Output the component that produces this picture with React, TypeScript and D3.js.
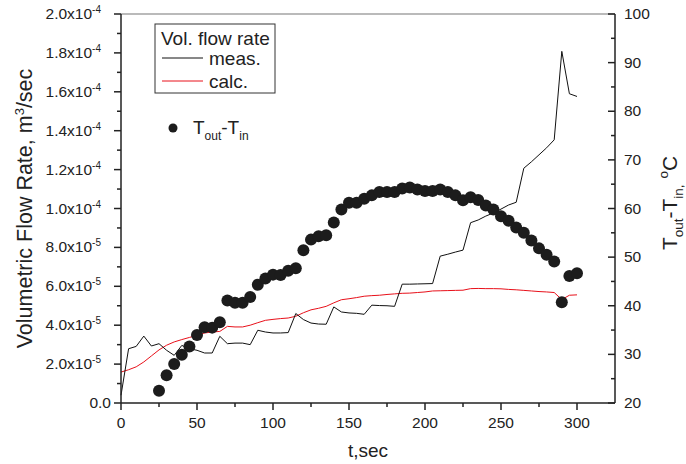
import React from "react";
import * as d3 from "d3";

// ---- Data ----
const measTime = [0,5,10,15,20,25,30,35,40,45,50,55,60,65,70,75,80,85,90,95,100,105,110,115,120,125,130,135,140,145,150,155,160,165,170,175,180,185,190,195,200,205,210,215,220,225,230,235,240,245,250,255,260,265,270,275,280,285,290,295,300];
const measFlow = [0.4e-5,2.79e-5,2.91e-5,3.44e-5,2.93e-5,3.05e-5,2.71e-5,2.45e-5,2.96e-5,2.79e-5,2.71e-5,2.57e-5,2.57e-5,3.43e-5,3.05e-5,3.08e-5,3.08e-5,3.0e-5,3.74e-5,3.65e-5,3.6e-5,3.6e-5,3.62e-5,4.6e-5,4.29e-5,4.11e-5,4.06e-5,4.05e-5,4.94e-5,4.68e-5,4.63e-5,4.61e-5,4.56e-5,5.03e-5,5.01e-5,5.0e-5,4.97e-5,6.11e-5,6.11e-5,6.12e-5,6.13e-5,6.14e-5,7.55e-5,7.65e-5,7.76e-5,7.86e-5,9.27e-5,9.41e-5,9.61e-5,9.77e-5,9.97e-5,10.18e-5,10.32e-5,12.07e-5,12.4e-5,12.76e-5,13.12e-5,13.53e-5,18.08e-5,15.9e-5,15.76e-5];

const calcTime = measTime;
const calcFlow = [1.59e-5,1.71e-5,1.86e-5,2.11e-5,2.42e-5,2.73e-5,2.97e-5,3.14e-5,3.26e-5,3.37e-5,3.48e-5,3.6e-5,3.65e-5,3.68e-5,3.94e-5,3.91e-5,3.91e-5,4.0e-5,4.13e-5,4.25e-5,4.3e-5,4.34e-5,4.37e-5,4.46e-5,4.64e-5,4.79e-5,4.87e-5,4.97e-5,5.15e-5,5.31e-5,5.36e-5,5.42e-5,5.49e-5,5.52e-5,5.54e-5,5.58e-5,5.61e-5,5.64e-5,5.65e-5,5.68e-5,5.71e-5,5.76e-5,5.77e-5,5.78e-5,5.79e-5,5.8e-5,5.88e-5,5.89e-5,5.88e-5,5.88e-5,5.87e-5,5.84e-5,5.82e-5,5.79e-5,5.76e-5,5.73e-5,5.71e-5,5.68e-5,5.32e-5,5.54e-5,5.56e-5];

const tempTime = [25,30,35,40,45,50,55,60,65,70,75,80,85,90,95,100,105,110,115,120,125,130,135,140,145,150,155,160,165,170,175,180,185,190,195,200,205,210,215,220,225,230,235,240,245,250,255,260,265,270,275,280,285,290,295,300];
const tempDiff = [22.5,25.7,28.0,29.9,31.6,34.0,35.6,35.5,36.6,41.1,40.6,40.6,41.8,44.3,45.6,46.4,46.3,47.2,47.7,51.4,53.6,54.3,54.5,57.1,59.8,61.2,61.2,62.0,62.7,63.4,63.4,63.4,64.1,64.3,63.9,63.6,63.6,63.9,63.4,62.7,61.7,62.3,61.75,60.6,59.8,58.4,57.5,56.1,55.0,53.4,51.8,50.5,49.1,40.7,46.1,46.7];

const xTicks = [0,50,100,150,200,250,300];
const xMinor = [25,75,125,175,225,275];
const leftTicks = [0,2e-5,4e-5,6e-5,8e-5,1e-4,1.2e-4,1.4e-4,1.6e-4,1.8e-4,2e-4];
const leftMinor = [1e-5,3e-5,5e-5,7e-5,9e-5,1.1e-4,1.3e-4,1.5e-4,1.7e-4,1.9e-4];
const rightTicks = [20,30,40,50,60,70,80,90,100];
const rightMinor = [25,35,45,55,65,75,85,95];

const W = 686, H = 464;
const L = 121, R = 615, T = 14, B = 403;
const FONT = "'Liberation Sans', Arial, Helvetica, sans-serif";

function leftLabel(v: number) {
  if (v === 0) return <tspan>0.0</tspan>;
  const exp = Math.floor(Math.log10(v) + 1e-9);
  const mant = v / Math.pow(10, exp);
  return (
    <>
      <tspan>{mant.toFixed(1)}x10</tspan>
      <tspan dy={-6} fontSize={10}>{exp}</tspan>
    </>
  );
}

export default function App() {
  const x = d3.scaleLinear().domain([0, 325]).range([L, R]);
  const yL = d3.scaleLinear().domain([0, 2e-4]).range([B, T]);
  const yR = d3.scaleLinear().domain([20, 100]).range([B, T]);

  const measLine = d3.line<number>().x((_, i) => x(measTime[i])).y((d) => yL(d))(measFlow) || "";
  const calcLine = d3.line<number>().x((_, i) => x(calcTime[i])).y((d) => yL(d))(calcFlow) || "";

  const axisColor = "#222";
  const textColor = "#222";

  return (
    <svg width={W} height={H} style={{ position: "absolute", left: 0, top: 0, background: "#fff" }} fontFamily={FONT}>
      <rect x={0} y={0} width={W} height={H} fill="#fff" />
      {/* data lines */}
      <path d={calcLine} fill="none" stroke="#e8101a" strokeWidth={1} />
      <path d={measLine} fill="none" stroke="#111" strokeWidth={1} />
      {/* dots */}
      {tempDiff.map((d, i) => (
        <circle key={i} cx={x(tempTime[i])} cy={yR(d)} r={6} fill="#1c1c1c" />
      ))}

      {/* frame */}
      <line x1={L} x2={R} y1={T} y2={T} stroke="#777" strokeWidth={1.2} />
      <line x1={L} x2={L} y1={T} y2={B} stroke={axisColor} strokeWidth={1.5} />
      <line x1={R} x2={R} y1={T} y2={B} stroke={axisColor} strokeWidth={1.5} />
      <line x1={L} x2={R} y1={B} y2={B} stroke={axisColor} strokeWidth={1.5} />

      {/* bottom axis */}
      {xTicks.map((t) => (
        <g key={"xt" + t}>
          <line x1={x(t)} x2={x(t)} y1={B} y2={B + 7} stroke={axisColor} strokeWidth={1.5} />
          <text x={x(t)} y={B + 25} textAnchor="middle" fontSize={15.5} fill={textColor}>{t}</text>
        </g>
      ))}
      {xMinor.map((t) => (
        <line key={"xm" + t} x1={x(t)} x2={x(t)} y1={B} y2={B + 4} stroke={axisColor} strokeWidth={1.5} />
      ))}
      <text x={368} y={457} textAnchor="middle" fontSize={19} fill={textColor}>t,sec</text>

      {/* left axis */}
      {leftTicks.map((v) => (
        <g key={"lt" + v}>
          <line x1={L - 7} x2={L} y1={yL(v)} y2={yL(v)} stroke={axisColor} strokeWidth={1.5} />
          <text x={v === 0 ? L - 10 : L - 20} y={yL(v) + 5} textAnchor="end" fontSize={15.5} fill={textColor}>
            {leftLabel(v)}
          </text>
        </g>
      ))}
      {leftMinor.map((v) => (
        <line key={"lm" + v} x1={L - 4} x2={L} y1={yL(v)} y2={yL(v)} stroke={axisColor} strokeWidth={1.5} />
      ))}
      <text transform={`translate(32,${(T + B) / 2}) rotate(-90)`} textAnchor="middle" fontSize={21.5} fill={textColor}>
        <tspan>Volumetric Flow Rate, m</tspan>
        <tspan dy={-8} fontSize={13}>3</tspan>
        <tspan dy={8}>/sec</tspan>
      </text>

      {/* right axis */}
      {rightTicks.map((v) => (
        <g key={"rt" + v}>
          <line x1={R - 7} x2={R} y1={yR(v)} y2={yR(v)} stroke={axisColor} strokeWidth={1.5} />
          <text x={R + 9} y={yR(v) + 5} textAnchor="start" fontSize={15.5} fill={textColor}>{v}</text>
        </g>
      ))}
      {rightMinor.map((v) => (
        <line key={"rm" + v} x1={R - 4} x2={R} y1={yR(v)} y2={yR(v)} stroke={axisColor} strokeWidth={1.5} />
      ))}
      <text transform={`translate(677,203) rotate(-90)`} textAnchor="middle" fontSize={21} fill={textColor}>
        <tspan>T</tspan>
        <tspan dy={6} fontSize={13.5}>out</tspan>
        <tspan dy={-6}>-T</tspan>
        <tspan dy={6} fontSize={13.5}>in,</tspan>
        <tspan dy={-6}> </tspan>
        <tspan dy={-9} fontSize={13.5}>o</tspan>
        <tspan dy={9}>C</tspan>
      </text>

      {/* legend */}
      <rect x={155} y={24} width={120} height={69} fill="#fff" stroke="#333" strokeWidth={1} />
      <text x={161} y={45} fontSize={19} fill={textColor}>Vol. flow rate</text>
      <line x1={162} x2={203} y1={58} y2={58} stroke="#111" strokeWidth={1} />
      <text x={209} y={65} fontSize={19} fill={textColor}>meas.</text>
      <line x1={162} x2={203} y1={81} y2={81} stroke="#e8101a" strokeWidth={1} />
      <text x={209} y={88} fontSize={19} fill={textColor}>calc.</text>
      <circle cx={173} cy={128} r={4.5} fill="#1c1c1c" />
      <text x={193} y={134} fontSize={19} fill={textColor}>
        <tspan>T</tspan>
        <tspan dy={6} fontSize={12}>out</tspan>
        <tspan dy={-6}>-T</tspan>
        <tspan dy={6} fontSize={12}>in</tspan>
      </text>
    </svg>
  );
}
